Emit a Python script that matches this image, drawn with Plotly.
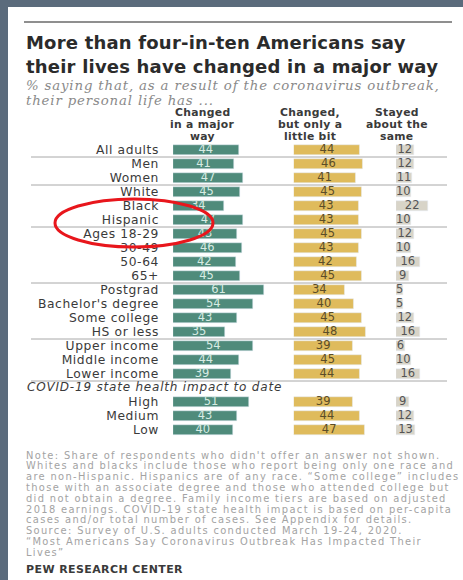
import plotly.graph_objects as go

W, H = 463, 580

categories = ["All adults", "Men", "Women", "White", "Black", "Hispanic",
              "Ages 18-29", "30-49", "50-64", "65+",
              "Postgrad", "Bachelor's degree", "Some college", "HS or less",
              "Upper income", "Middle income", "Lower income",
              " ",
              "High", "Medium", "Low"]
major = [44, 41, 47, 45, 34, 47, 43, 46, 42, 45, 61, 54, 43, 35, 54, 44, 39, None, 51, 43, 40]
little = [44, 46, 41, 45, 43, 43, 45, 43, 42, 45, 34, 40, 45, 48, 39, 45, 44, None, 39, 44, 47]
same = [12, 12, 11, 10, 22, 10, 12, 10, 16, 9, 5, 5, 12, 16, 6, 10, 16, None, 9, 12, 13]

headers = [["Changed", "in a major", "way"],
           ["Changed,", "but only a", "little bit"],
           ["Stayed", "about the", "same"]]
title_lines = ["More than four-in-ten Americans say",
               "their lives have changed in a major way"]
subtitle_lines = ["% saying that, as a result of the coronavirus outbreak,",
                  "their personal life has ..."]
group_header = "COVID-19 state health impact to date"
note_lines = [
    "Note: Share of respondents who didn't offer an answer not shown.",
    "Whites and blacks include those who report being only one race and",
    "are non-Hispanic. Hispanics are of any race. \u201cSome college\u201d includes",
    "those with an associate degree and those who attended college but",
    "did not obtain a degree. Family income tiers are based on adjusted",
    "2018 earnings. COVID-19 state health impact is based on per-capita",
    "cases and/or total number of cases. See Appendix for details.",
    "Source: Survey of U.S. adults conducted March 19-24, 2020.",
    "\u201cMost Americans Say Coronavirus Outbreak Has Impacted Their",
    "Lives\u201d",
]
source_label = "PEW RESEARCH CENTER"

GREEN = "#4f8b7b"
YELLOW = "#dfbb5c"
GRAY = "#d8d4c8"
SLATE = "#5b6b7c"


def px(x):
    return x / W


def py(y):
    return 1 - y / H


def spaced(s, ls):
    return f'<span style="letter-spacing:{ls}px">{s}</span>'


row_top, row_h = 143, 14
n = len(categories)
ydom = [py(row_top + n * row_h), py(row_top)]

cols = [
    # (values, color, text color, start px, px per unit, range max)
    (major, GREEN, "#d7ebe3", 173, 1.49, 70),
    (little, YELLOW, "#5b4d28", 293.7, 1.51, 60),
    (same, GRAY, "#555555", 396, 1.47, 30),
]

fig = go.Figure()
layout_axes = {}
for i, (vals, color, tcolor, x0, scale, rmax) in enumerate(cols):
    xa = "x" if i == 0 else f"x{i+1}"
    fig.add_trace(go.Bar(
        x=vals, y=categories, orientation="h", marker_color=color,
        width=0.68, xaxis=xa, yaxis="y", hoverinfo="skip", showlegend=False,
    ))
    fig.add_trace(go.Scatter(
        x=[v / 2 if v is not None else None for v in vals], y=categories,
        text=[str(v) if v is not None else "" for v in vals],
        mode="text", textposition="middle center",
        textfont=dict(family="DejaVu Sans", size=11.5, color=tcolor),
        xaxis=xa, yaxis="y", hoverinfo="skip", showlegend=False,
    ))
    key = "xaxis" if i == 0 else f"xaxis{i+1}"
    layout_axes[key] = dict(
        domain=[px(x0), px(x0 + scale * rmax)], range=[0, rmax],
        visible=False, fixedrange=True,
        anchor="y",
    )

fig.update_layout(
    width=W, height=H, margin=dict(l=0, r=0, t=0, b=0),
    paper_bgcolor=SLATE, plot_bgcolor="rgba(0,0,0,0)",
    bargap=0, barmode="overlay",
    yaxis=dict(
        domain=ydom, type="category", range=[n - 0.5, -0.5],
        tickmode="array", tickvals=categories,
        ticktext=[spaced(c, 0.6) for c in categories],
        anchor="x", showgrid=False, zeroline=False,
        showline=False, ticks="", ticklabelstandoff=13,
        tickfont=dict(family="DejaVu Sans", size=12.3, color="#3a3a3a"),
        fixedrange=True,
    ),
    **layout_axes,
)

shapes = []
# white panel
shapes.append(dict(type="rect", xref="paper", yref="paper", x0=px(8), x1=1.0,
                   y0=0, y1=py(7), fillcolor="white", line=dict(width=0), layer="below"))
# top rule
shapes.append(dict(type="line", xref="paper", yref="paper", x0=px(24), x1=px(452),
                   y0=py(22), y1=py(22), line=dict(color="#6a6a6a", width=1.5)))
# separators between groups (category index positions)
for yv in [0.5, 2.5, 5.5, 9.5, 13.5, 16.5]:
    shapes.append(dict(type="line", xref="paper", yref="y", x0=px(31), x1=px(447),
                       y0=yv, y1=yv, line=dict(color="#a8a8a8", width=1)))
# red ellipse annotation
shapes.append(dict(type="circle", xref="paper", yref="paper", x0=px(55), x1=px(213),
                   y0=py(247), y1=py(199), line=dict(color="#e8161c", width=3)))
fig.update_layout(shapes=shapes)

ann = []
for k, line in enumerate(title_lines):
    ann.append(dict(text=f"<b>{spaced(line, 0.2)}</b>", x=px(24), y=py(43 + 23 * k),
                    xref="paper", yref="paper",
                    xanchor="left", yanchor="middle", showarrow=False,
                    font=dict(family="DejaVu Sans", size=18, color="#2b2b2b")))
for k, line in enumerate(subtitle_lines):
    ann.append(dict(text=f"<i>{spaced(line, 0.85)}</i>", x=px(24), y=py(86 + 14.5 * k),
                    xref="paper", yref="paper",
                    xanchor="left", yanchor="middle", showarrow=False,
                    font=dict(family="DejaVu Serif", size=13.3, color="#8a8a8a")))
for cx, lines in zip([202, 310, 397], headers):
    for k, line in enumerate(lines):
        ann.append(dict(text=f"<b>{spaced(line, 0.3)}</b>", x=px(cx), y=py(112.5 + 12 * k),
                        xref="paper", yref="paper",
                        xanchor="center", yanchor="middle", showarrow=False,
                        font=dict(family="DejaVu Sans", size=10.8, color="#3a3a3a")))
ann.append(dict(text=f"<i>{spaced(group_header, 0.8)}</i>", x=px(25), y=" ", xref="paper", yref="y",
                xanchor="left", yanchor="middle", yshift=1, showarrow=False,
                font=dict(family="DejaVu Sans", size=12, color="#3a3a3a")))
for k, line in enumerate(note_lines):
    ann.append(dict(text=spaced(line, 1.35), x=px(24), y=py(455 + 10.8 * k), xref="paper", yref="paper",
                    xanchor="left", yanchor="middle", showarrow=False,
                    font=dict(family="DejaVu Sans", size=9.9, color="#a3a3a3")))
ann.append(dict(text=f"<b>{spaced(source_label, 0.4)}</b>", x=px(24), y=py(569), xref="paper", yref="paper",
                xanchor="left", yanchor="middle", showarrow=False,
                font=dict(family="DejaVu Sans", size=11, color="#3a3a3a")))
fig.update_layout(annotations=ann)

fig.write_html("out.html", config={"displayModeBar": False},
               post_script="document.body.style.margin='0';document.body.style.overflow='hidden';")
